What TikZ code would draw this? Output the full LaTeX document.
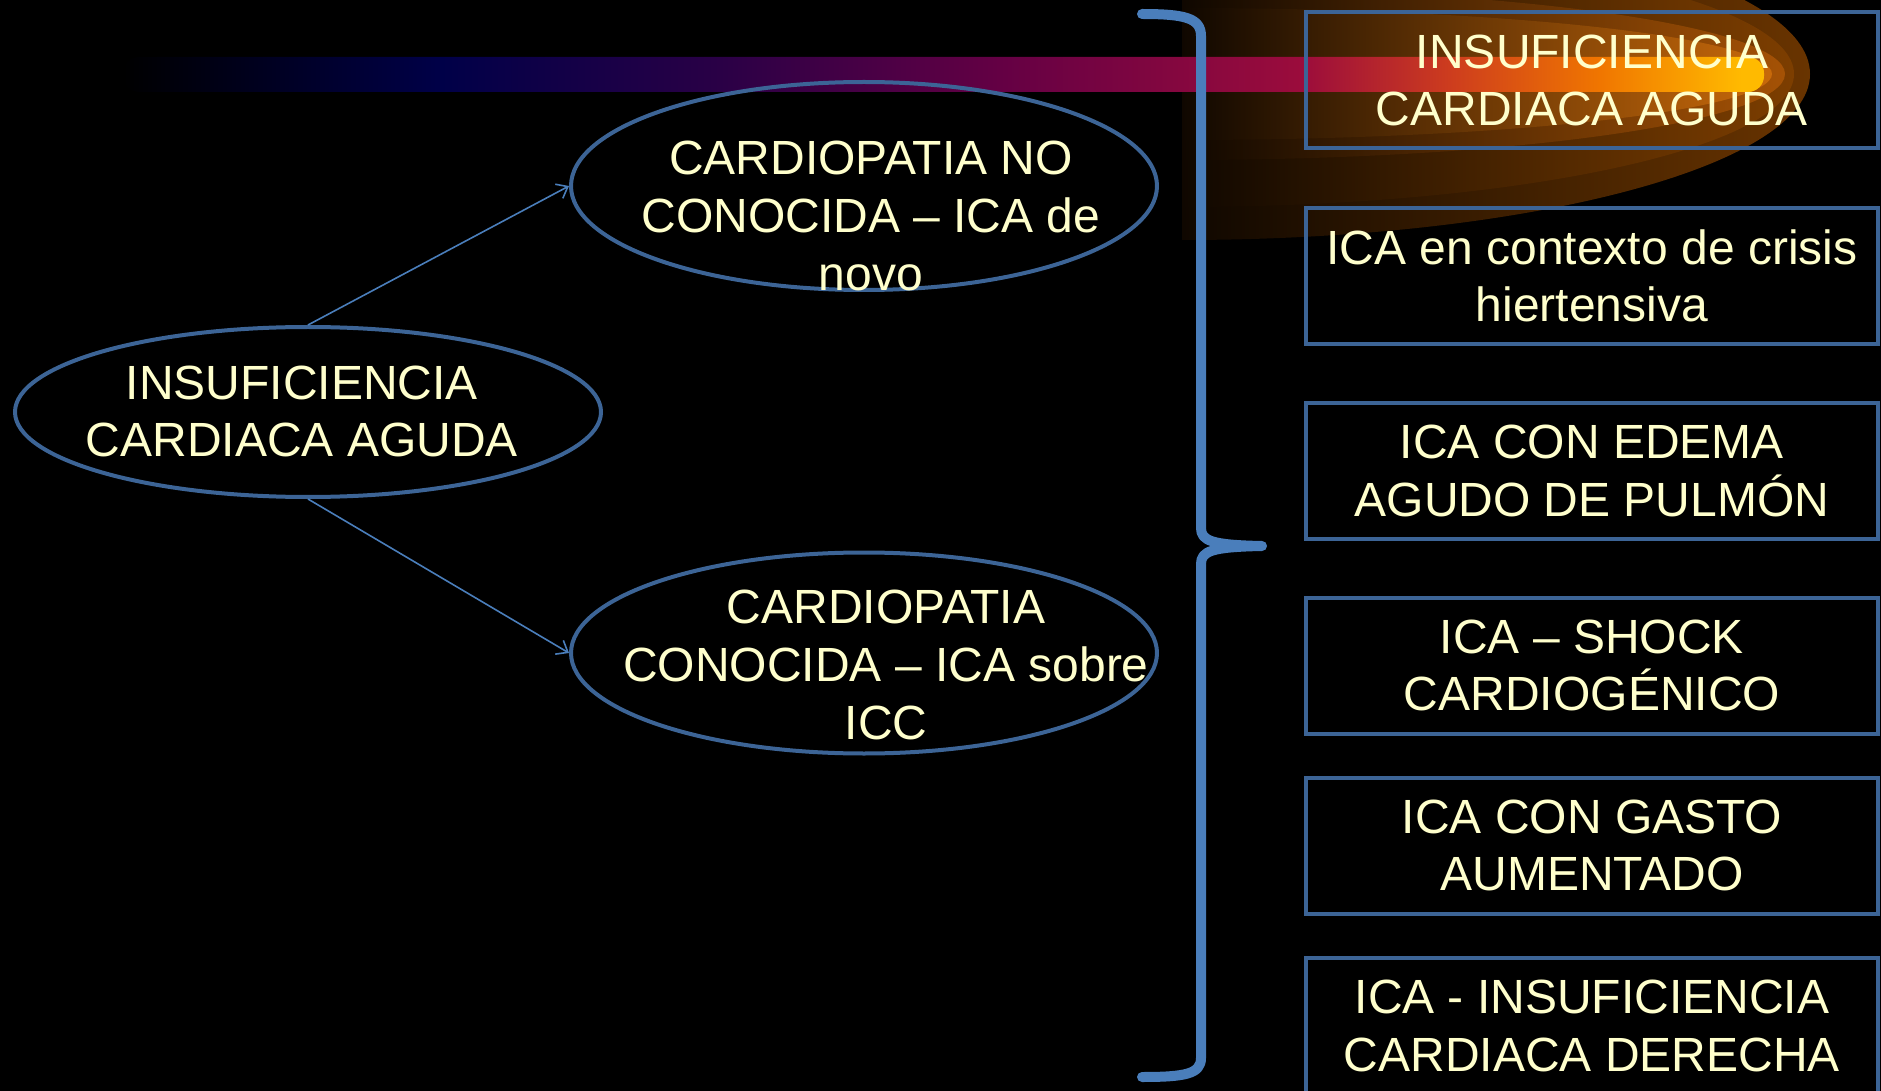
\documentclass[tikz,border=0pt]{standalone}
\usepackage{fontspec}
\setmainfont{Liberation Sans}
\usetikzlibrary{shapes.geometric,arrows.meta}
\definecolor{txt}{RGB}{255,255,204}
\definecolor{edgeblue}{RGB}{60,100,150}
\definecolor{braceblue}{RGB}{74,126,187}
\definecolor{bnavy}{RGB}{0,0,72}
\definecolor{bpurp}{RGB}{42,0,70}
\definecolor{bmag}{RGB}{100,0,68}
\definecolor{bcrim}{RGB}{155,12,60}
\definecolor{bred}{RGB}{205,60,30}
\definecolor{borange}{RGB}{240,118,0}
\definecolor{byellow}{RGB}{255,186,0}
\definecolor{gdark}{RGB}{15,7,0}
\definecolor{gAm}{RGB}{92,46,0}
\definecolor{gAr}{RGB}{105,52,0}
\definecolor{gBm}{RGB}{112,56,0}
\definecolor{gBr}{RGB}{125,62,0}
\definecolor{gCm}{RGB}{148,74,0}
\definecolor{gCr}{RGB}{165,82,5}
\definecolor{gDm}{RGB}{180,92,5}
\definecolor{gDr}{RGB}{200,105,10}
\pgfdeclarehorizontalshading{barshade}{100bp}{color(0bp)=(black); color(25bp)=(black); color(34.7bp)=(bnavy); color(43.2bp)=(bpurp); color(51.7bp)=(bmag); color(60.9bp)=(bcrim); color(65.4bp)=(bred); color(70bp)=(borange); color(74.3bp)=(byellow); color(100bp)=(byellow)}
\tikzset{
  ell/.style={ellipse, draw=edgeblue, line width=2pt, inner sep=0pt},
  lbl/.style={text=txt, align=center, font=\fontsize{24}{28.8}\selectfont, inner sep=0pt},
  boxn/.style={rectangle, draw=edgeblue, line width=2pt, minimum width=286pt, minimum height=68pt, text=txt, align=center, font=\fontsize{24}{28.8}\selectfont, inner sep=0pt},
  arr/.style={draw=braceblue, line width=0.8pt, -{Straight Barb[length=5pt,width=8pt]}},
  bracepath/.style={draw=braceblue, line width=5pt, line cap=round, line join=round}
}
\begin{document}
\begin{tikzpicture}[x=0.5pt,y=-0.5pt]
\useasboundingbox (0,0) rectangle (1881,1091);
\clip (0,0) rectangle (1881,1091);
\fill[black] (0,0) rectangle (1881,1091);
% glow
\shade[left color=gdark, middle color=gAm, right color=gAr] (1182,240) arc[start angle=90,end angle=-90,x radius=628,y radius=166] -- cycle;
\shade[left color=gdark, middle color=gBm, right color=gBr] (1182,207) arc[start angle=90,end angle=-90,x radius=612,y radius=133] -- cycle;
\shade[left color=gdark, middle color=gCm, right color=gCr] (1182,160) arc[start angle=90,end angle=-90,x radius=603,y radius=86] -- cycle;
\shade[left color=gdark, middle color=gDm, right color=gDr] (1182,140) arc[start angle=90,end angle=-90,x radius=590,y radius=66] -- cycle;
% bar
\shade[shading=barshade, rounded corners=8pt] (123,57) -- (1764,57) -- (1764,92) -- (123,92) -- cycle;
% brace
\draw[bracepath] (1142,14) .. controls (1185,14) and (1201,18) .. (1201,36) -- (1201,528) .. controls (1201,541) and (1212,545) .. (1262,546) .. controls (1212,547) and (1201,551) .. (1201,564) -- (1201,1058) .. controls (1201,1074) and (1185,1077) .. (1142,1077);
% ellipses
\node[ell, minimum width=293pt, minimum height=85pt] (L) at (308,412) {};
\node[ell, minimum width=293pt, minimum height=104pt] (T) at (864,186) {};
\node[ell, minimum width=293pt, minimum height=100.5pt] (B) at (864,653) {};
\node[lbl] (Lt) at (302,411.5) {INSUFICIENCIA\\CARDIACA AGUDA};
\node[lbl] (Tt) at (871,216) {CARDIOPATIA NO\\CONOCIDA – ICA de\\novo};
\node[lbl] (Bt) at (886,665) {CARDIOPATIA\\CONOCIDA – ICA sobre\\ICC};
% arrows
\draw[arr] (L.north) -- (T.west);
\draw[arr] (L.south) -- (B.west);
% boxes
\node[boxn] (R1) at (1592,80.5) {INSUFICIENCIA\\CARDIACA AGUDA};
\node[boxn] (R2) at (1592,276) {ICA en contexto de crisis\\hiertensiva};
\node[boxn] (R3) at (1592,471) {ICA CON EDEMA\\AGUDO DE PULMÓN};
\node[boxn] (R4) at (1592,665.5) {ICA – SHOCK\\CARDIOGÉNICO};
\node[boxn] (R5) at (1592,845.5) {ICA CON GASTO\\AUMENTADO};
\node[boxn] (R6) at (1592,1026) {ICA - INSUFICIENCIA\\CARDIACA DERECHA};
\end{tikzpicture}
\end{document}
